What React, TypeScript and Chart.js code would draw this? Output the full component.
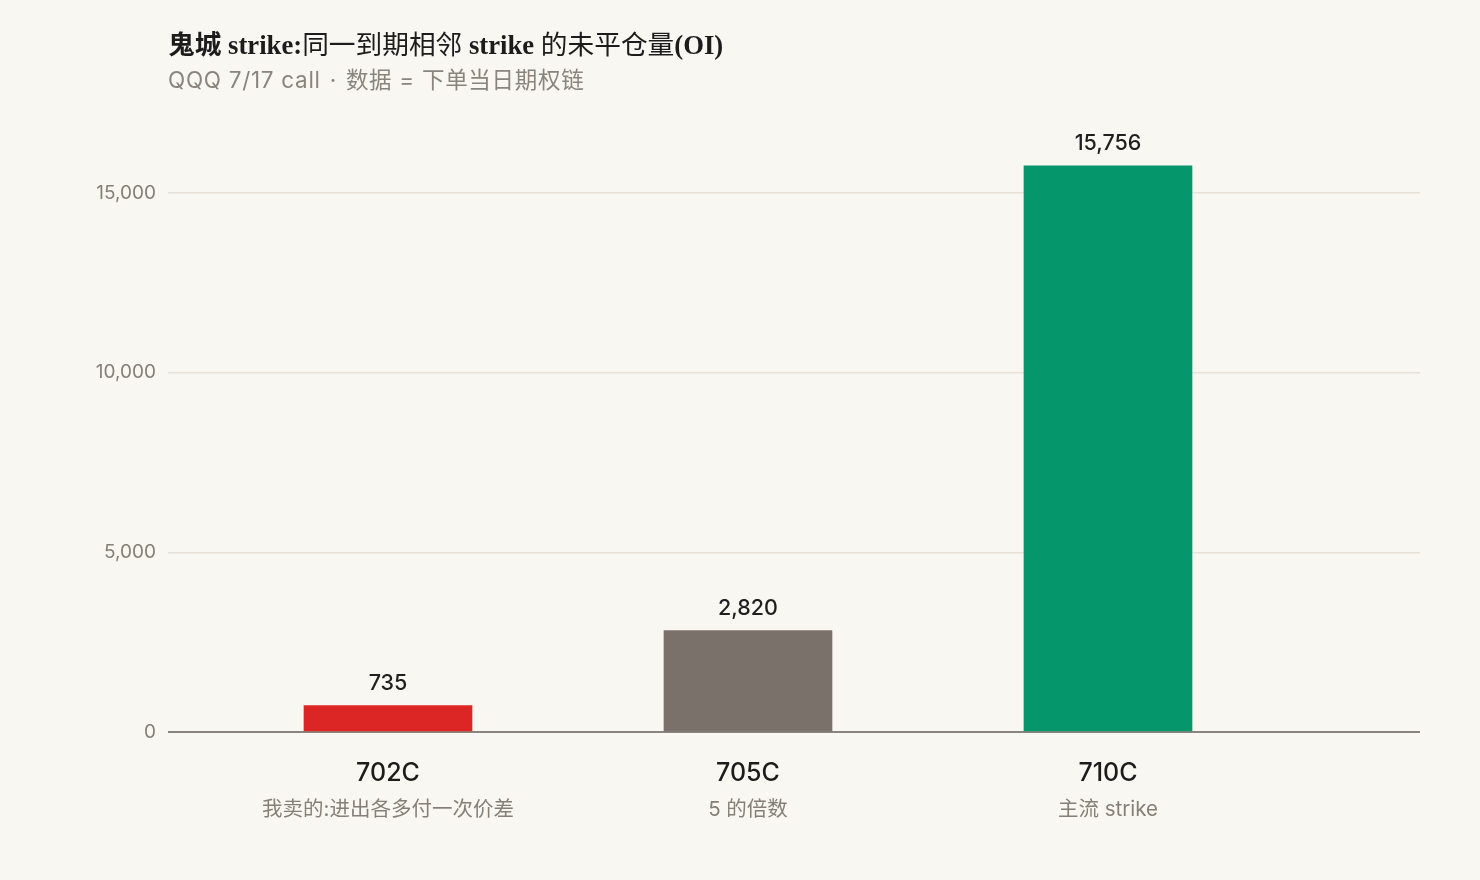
import React, { useEffect, useRef } from "react";
import { Chart, registerables } from "chart.js";

Chart.register(...registerables);

const categories = ["702C", "705C", "710C"];
const subLabels = ["我卖的:进出各多付一次价差", "5 的倍数", "主流 strike"];
const openInterest = [735, 2820, 15756];
const barColors = ["#dc2626", "#7a716b", "#06966b"];
const yTicks = [0, 5000, 10000, 15000];

const SANS = "Inter, 'Noto Sans CJK SC', sans-serif";
const SERIF = "'Liberation Serif', 'DejaVu Serif', 'Noto Sans CJK SC', serif";

export default function App() {
  const canvasRef = useRef<HTMLCanvasElement | null>(null);

  useEffect(() => {
    document.body.style.margin = "0";
    const canvas = canvasRef.current;
    if (!canvas) return;

    const labelPlugin = {
      id: "customLabels",
      afterDatasetsDraw(chart: any) {
        const ctx = chart.ctx;
        ctx.save();
        const meta = chart.getDatasetMeta(0);
        meta.data.forEach((bar: any, i: number) => {
          ctx.font = `500 21.5px ${SANS}`;
          ctx.fillStyle = "#1f1f1f";
          ctx.textAlign = "center";
          ctx.textBaseline = "alphabetic";
          ctx.fillText(openInterest[i].toLocaleString("en-US"), bar.x, bar.y - 16);
        });
        const xs = chart.scales.x;
        const bottom = chart.chartArea.bottom;
        categories.forEach((c, i) => {
          const px = xs.getPixelForValue(i);
          ctx.textAlign = "center";
          ctx.font = `500 25px ${SANS}`;
          ctx.fillStyle = "#1c1c1c";
          ctx.fillText(c, px, bottom + 49);
          ctx.font = `20.5px ${SANS}`;
          ctx.fillStyle = "#857f78";
          ctx.fillText(subLabels[i], px, bottom + 84);
        });
        ctx.restore();
      },
    };

    const chart = new Chart(canvas, {
      type: "bar",
      data: {
        labels: categories,
        datasets: [
          {
            data: openInterest.map((v, i) => ({ x: i, y: v })),
            backgroundColor: barColors,
            barThickness: 168,
            borderWidth: 0,
          },
        ],
      },
      options: {
        animation: false,
        responsive: false,
        maintainAspectRatio: false,
        layout: { padding: { left: 0, right: 60, top: 121, bottom: 28 } },
        plugins: {
          legend: { display: false },
          tooltip: { enabled: false },
          title: { display: false },
        },
        scales: {
          x: {
            type: "linear",
            offset: false,
            min: -0.6111,
            max: 2.8667,
            grid: { display: false, offset: false },
            border: { display: false },
            ticks: { display: false },
            afterFit(scale: any) {
              scale.height = 120;
            },
          },
          y: {
            min: 0,
            max: 17000,
            afterBuildTicks(scale: any) {
              scale.ticks = yTicks.map((v) => ({ value: v }));
            },
            afterFit(scale: any) {
              scale.width = 168;
            },
            border: { display: false },
            grid: {
              drawTicks: false,
              color: (ctx: any) => (ctx.tick && ctx.tick.value === 0 ? "#8a847e" : "#e8e2d6"),
              lineWidth: (ctx: any) => (ctx.tick && ctx.tick.value === 0 ? 2 : 1.5),
            },
            ticks: {
              padding: 12,
              color: "#857f78",
              font: { family: SANS, size: 19 },
              callback: (v: any) => Number(v).toLocaleString("en-US"),
            },
          },
        },
      },
      plugins: [labelPlugin],
    } as any);

    return () => chart.destroy();
  }, []);

  return (
    <div
      style={{
        position: "absolute",
        left: 0,
        top: 0,
        width: 1480,
        height: 880,
        background: "#f9f7f2",
        overflow: "hidden",
      }}
    >
      <canvas
        ref={canvasRef}
        width={1480}
        height={880}
        style={{ position: "absolute", left: 0, top: 0, width: 1480, height: 880 }}
      />
      <div
        style={{
          position: "absolute",
          left: 168,
          top: 28,
          fontFamily: SERIF,
          fontSize: 26.7,
          color: "#1c1c1c",
          whiteSpace: "nowrap",
          lineHeight: "34px",
        }}
      >
        <span style={{ fontWeight: 700 }}>鬼城 strike:</span>
        <span style={{ fontWeight: 400 }}>同一到期相邻 </span>
        <span style={{ fontWeight: 700 }}>strike </span>
        <span style={{ fontWeight: 400 }}>的未平仓量</span>
        <span style={{ fontWeight: 700 }}>(OI)</span>
      </div>
      <div
        style={{
          position: "absolute",
          left: 168,
          top: 65,
          fontFamily: SANS,
          fontSize: 22.5,
          letterSpacing: "0.7px",
          color: "#8a847e",
          whiteSpace: "nowrap",
          lineHeight: "30px",
        }}
      >
        QQQ 7/17 call<span style={{ margin: "0 9px" }}>·</span>数据 = 下单当日期权链
      </div>
    </div>
  );
}
